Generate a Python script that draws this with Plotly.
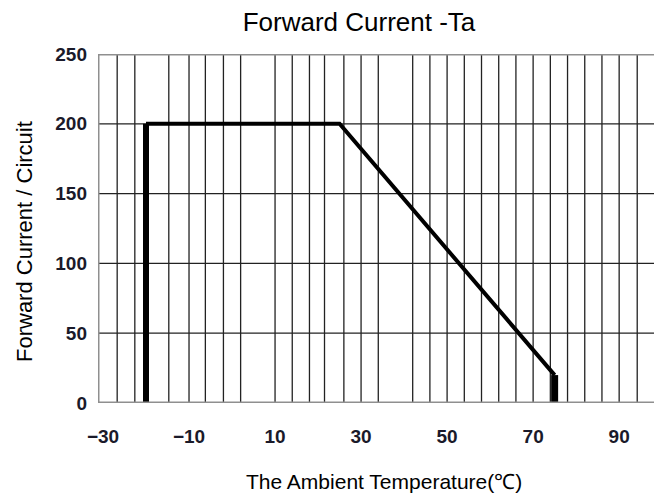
import plotly.graph_objects as go

# Data
temps = [-20, -20, 25, 75, 75]
current = [0, 200, 200, 20, 0]
grid_x = [-26.7, -22.6, -14.7, -10, -6.2, -2, 2, 10, 14, 18, 21.5, 26, 30, 34, 42, 46, 50,
          54, 58, 62, 66, 70, 74, 78, 82, 86, 90, 94.2]
grid_y = [50, 100, 150, 200]
x_ticks = [-30, -10, 10, 30, 50, 70, 90]
x_tick_text = ["−30", "−10", "10", "30", "50", "70", "90"]
y_ticks = [0, 50, 100, 150, 200, 250]

XMIN, XMAX = -31.16, 98.1
YMIN, YMAX = 0, 250

fig = go.Figure()

# grid lines
gx, gy = [], []
for v in grid_x:
    gx += [v, v, None]
    gy += [YMIN, YMAX, None]
for v in grid_y:
    gx += [XMIN, XMAX, None]
    gy += [v, v, None]
fig.add_trace(go.Scatter(x=gx, y=gy, mode="lines", line=dict(color="#222222", width=1.3),
                         hoverinfo="skip", showlegend=False))

# curve
fig.add_trace(go.Scatter(x=temps[0:2], y=current[0:2], mode="lines",
                         line=dict(color="black", width=6), showlegend=False))
fig.add_trace(go.Scatter(x=temps[1:4], y=current[1:4], mode="lines",
                         line=dict(color="black", width=4), showlegend=False))
fig.add_trace(go.Scatter(x=temps[3:5], y=current[3:5], mode="lines",
                         line=dict(color="black", width=7), showlegend=False))

# borders (left, top, bottom)
fig.add_trace(go.Scatter(x=[XMAX, XMIN, XMIN, XMAX], y=[YMAX, YMAX, YMIN, YMIN], mode="lines",
                         line=dict(color="#8f8f8f", width=3), hoverinfo="skip", showlegend=False,
                         cliponaxis=False))

FONT = "Liberation Sans, Arial"
tick_font = dict(family=FONT, size=19, color="#1a1a2a", weight="bold")
fig.update_layout(
    width=654, height=495,
    margin=dict(l=98, r=0, t=54, b=92),
    paper_bgcolor="white", plot_bgcolor="white",
    title=dict(text="Forward Current -Ta", x=359 / 654, xanchor="center", y=1 - 22 / 495,
               yanchor="middle", font=dict(family=FONT, size=26, color="black")),
    xaxis=dict(range=[XMIN, XMAX], tickvals=x_ticks, ticktext=x_tick_text, showgrid=False,
               zeroline=False, showline=False, ticks="", tickfont=tick_font,
               ticklabelstandoff=20),
    yaxis=dict(range=[YMIN, YMAX], tickvals=y_ticks, showgrid=False, zeroline=False,
               showline=False, ticks="", ticklabelstandoff=10, tickfont=tick_font),
    annotations=[
        dict(text="Forward Current / Circuit", xref="paper", yref="paper",
             x=(24 - 98) / 556, y=(403 - 242) / 349, xanchor="center", yanchor="middle",
             textangle=-90, showarrow=False, font=dict(family=FONT, size=22, color="black")),
        dict(text="The Ambient Temperature(℃)", xref="paper", yref="paper",
             x=(383.5 - 98) / 556, y=(403 - 481) / 349, xanchor="center", yanchor="middle",
             showarrow=False, font=dict(family=FONT, size=21, color="black")),
    ],
)

fig.write_html("out.html", config={"displayModeBar": False},
               post_script="document.body.style.margin='0';")
